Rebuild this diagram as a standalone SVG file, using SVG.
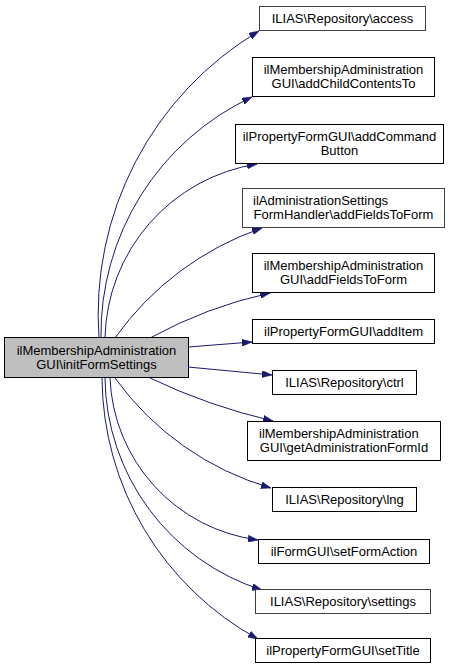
<svg xmlns="http://www.w3.org/2000/svg" width="457" height="671" viewBox="0 0 457 671">
<style>
.n rect{fill:#ffffff;stroke:#000000;stroke-width:1}
.n.g rect{stroke:#404040}
.n.m rect{fill:#bfbfbf}
text{font-family:"Liberation Sans",Arial,sans-serif;font-size:13px;fill:#000000;text-anchor:middle}
text.l{text-anchor:start}
.e path{fill:none;stroke:#191970;stroke-width:1;marker-end:url(#ah)}
</style>
<defs>
<marker id="ah" markerUnits="userSpaceOnUse" viewBox="0 0 10 7" refX="10" refY="3.5" markerWidth="10" markerHeight="7" orient="auto">
<path d="M0,0 L10,3.5 L0,7 z" fill="#191970" stroke="#191970" stroke-width="0.5"/>
</marker>
</defs>
<rect width="457" height="671" fill="#ffffff"/>
<g id="edges" class="e">
<path d="M99,338 A330,330 0 0 1 259,31"/>
<path d="M101,338 A262,262 0 0 1 252,97"/>
<path d="M105,338 A180,180 0 0 1 257,164"/>
<path d="M115,338 A300,300 0 0 1 262,228"/>
<path d="M150,338 A450,450 0 0 1 270,293"/>
<path d="M188,347 L252,342"/>
<path d="M188,367 L272,375"/>
<path d="M150,378 A600,600 0 0 0 273,421"/>
<path d="M115,378 A292,292 0 0 0 271,488"/>
<path d="M110,378 A170,170 0 0 0 258,540"/>
<path d="M105,378 A225,225 0 0 0 262,590"/>
<path d="M102,378 A300,300 0 0 0 258,639"/>
</g>
<g id="main" class="n m">
<rect x="4.5" y="337.5" width="184" height="40"/>
<text x="96.5" y="354.5">ilMembershipAdministration</text>
<text x="96.5" y="368.5">GUI\initFormSettings</text>
</g>
<g id="n1" class="n g">
<rect x="259.5" y="6.5" width="166" height="24"/>
<text x="342.5" y="23">ILIAS\Repository\access</text>
</g>
<g id="n2" class="n">
<rect x="252.5" y="57.5" width="182" height="39"/>
<text x="343.5" y="74">ilMembershipAdministration</text>
<text x="343.5" y="88">GUI\addChildContentsTo</text>
</g>
<g id="n3" class="n">
<rect x="235.5" y="124.5" width="208" height="39"/>
<text x="339.5" y="141">ilPropertyFormGUI\addCommand</text>
<text x="339.5" y="155">Button</text>
</g>
<g id="n4" class="n g">
<rect x="242.5" y="188.5" width="202" height="39"/>
<text class="l" x="253" y="205">ilAdministrationSettings</text>
<text x="343.5" y="219">FormHandler\addFieldsToForm</text>
</g>
<g id="n5" class="n">
<rect x="252.5" y="253.5" width="182" height="39"/>
<text x="343.5" y="270">ilMembershipAdministration</text>
<text x="343.5" y="284">GUI\addFieldsToForm</text>
</g>
<g id="n6" class="n">
<rect x="252.5" y="319.5" width="182" height="24"/>
<text x="343.5" y="336">ilPropertyFormGUI\addItem</text>
</g>
<g id="n7" class="n">
<rect x="272.5" y="370.5" width="144" height="24"/>
<text x="344.5" y="387">ILIAS\Repository\ctrl</text>
</g>
<g id="n8" class="n">
<rect x="247.5" y="421.5" width="193" height="39"/>
<text class="l" x="259" y="438">ilMembershipAdministration</text>
<text x="344" y="452">GUI\getAdministrationFormId</text>
</g>
<g id="n9" class="n">
<rect x="272.5" y="487.5" width="144" height="24"/>
<text x="344.5" y="504">ILIAS\Repository\lng</text>
</g>
<g id="n10" class="n">
<rect x="258.5" y="539.5" width="171" height="24"/>
<text x="344" y="556">ilFormGUI\setFormAction</text>
</g>
<g id="n11" class="n g">
<rect x="255.5" y="589.5" width="175" height="24"/>
<text x="343" y="606">ILIAS\Repository\settings</text>
</g>
<g id="n12" class="n">
<rect x="255.5" y="638.5" width="175" height="24"/>
<text x="343" y="655">ilPropertyFormGUI\setTitle</text>
</g>
</svg>
